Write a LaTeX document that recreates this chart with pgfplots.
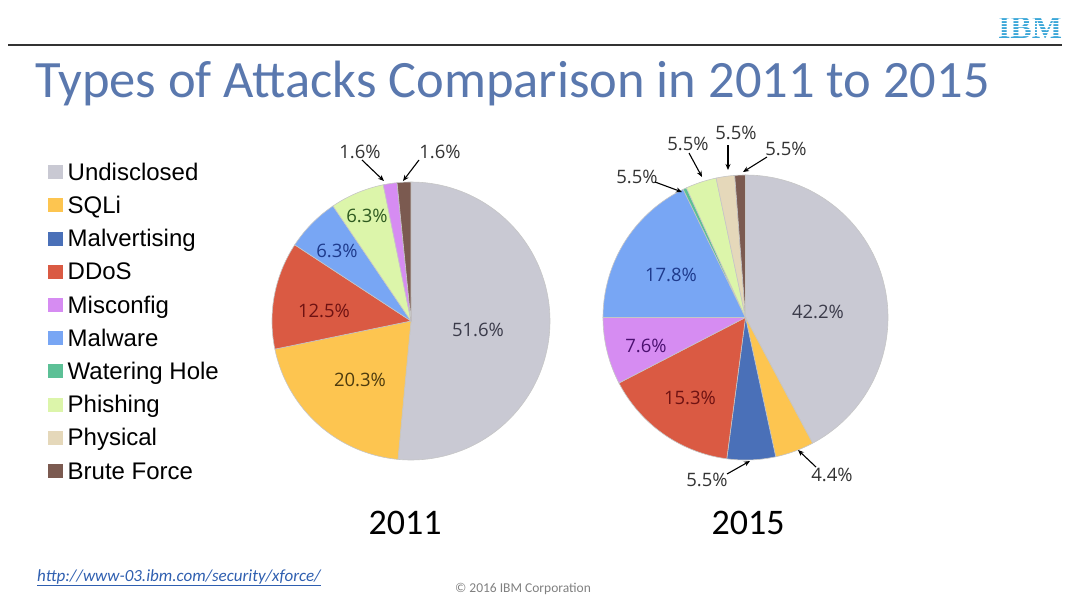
\documentclass[border=0pt]{standalone}
\usepackage{pgfplots}
\pgfplotsset{compat=1.18}
\usepackage{pgfplotstable}
\usepackage{fontspec}
\setmainfont{Liberation Sans}
\newfontfamily\calibri{Carlito}
\newfontfamily\labfont{Open Sans}
\newfontfamily\ibmfont{Liberation Serif}
\usetikzlibrary{arrows.meta}

\definecolor{cUnd}{HTML}{C9C9D3}
\definecolor{cSQL}{HTML}{FDC550}
\definecolor{cMalv}{HTML}{4A70B8}
\definecolor{cDDoS}{HTML}{DA5A43}
\definecolor{cMisc}{HTML}{D68CF2}
\definecolor{cMalw}{HTML}{78A6F4}
\definecolor{cWat}{HTML}{5CC096}
\definecolor{cPhis}{HTML}{DCF5AA}
\definecolor{cPhys}{HTML}{E5D8BA}
\definecolor{cBrute}{HTML}{7B5A50}
\definecolor{titleblue}{HTML}{5A78AE}
\definecolor{tGreen}{HTML}{2E5A20}
\definecolor{tBlue}{HTML}{1E3A8C}
\definecolor{tRed}{HTML}{6E1212}
\definecolor{tBrown}{HTML}{4D3B0E}
\definecolor{tDark}{HTML}{3B3B4A}
\definecolor{tPurple}{HTML}{4B1070}
\definecolor{ibmblue}{HTML}{3AA6D8}
\definecolor{urlblue}{HTML}{2F5FB0}

% 2011 shares (%), clockwise from 12 o'clock
\pgfplotstableread{
name value col
Undisclosed 51.6 cUnd
SQLi 20.3 cSQL
DDoS 12.5 cDDoS
Malware 6.3 cMalw
Phishing 6.3 cPhis
Misconfig 1.6 cMisc
BruteForce 1.6 cBrute
}\pieA

% 2015 shares (%), clockwise from 12 o'clock (slice sizes as drawn)
\pgfplotstableread{
name value col
Undisclosed 42.2 cUnd
SQLi 4.4 cSQL
Malvertising 5.5 cMalv
DDoS 15.3 cDDoS
Misconfig 7.6 cMisc
Malware 17.8 cMalw
WateringHole 0.4 cWat
Phishing 3.5 cPhis
Physical 2.1 cPhys
BruteForce 1.2 cBrute
}\pieB

\newcommand\drawpie[4]{%
  \pgfplotstablegetrowsof{#1}%
  \pgfmathtruncatemacro\nrows{\pgfplotsretval-1}%
  \def\tot{0}%
  \pgfplotsforeachungrouped \i in {0,...,\nrows}{%
    \pgfplotstablegetelem{\i}{value}\of{#1}%
    \pgfmathsetmacro\tot{\tot+\pgfplotsretval}}%
  \def\cum{90}%
  \pgfplotsforeachungrouped \i in {0,...,\nrows}{%
    \pgfplotstablegetelem{\i}{value}\of{#1}\let\v\pgfplotsretval
    \pgfplotstablegetelem{\i}{col}\of{#1}\let\c\pgfplotsretval
    \pgfmathsetmacro\nxt{\cum-(\v/\tot)*360}%
    \edef\temp{\noexpand\addplot[fill=\c, draw=gray!45, line width=0.6pt, domain=\nxt:\cum, samples=90, forget plot]
      ({#2+#4*cos(x)},{#3-#4*sin(x)}) -- (axis cs:#2,#3) -- cycle;}%
    \temp
    \let\cum\nxt
  }%
}

\pgfplotsset{sq/.style={legend image code/.code={\fill[##1,draw=none] (0pt,-5pt) rectangle (15pt,9pt);}}}

\begin{document}
\begin{tikzpicture}
\begin{axis}[
  scale only axis, width=1066pt, height=597pt,
  xmin=0, xmax=1066, ymin=0, ymax=597, y dir=reverse,
  hide axis, clip=false,
  legend style={at={(axis cs:45,161)}, anchor=north west, draw=none, fill=none,
    font=\fontsize{24}{28}\selectfont, row sep=11.2pt,
    nodes={inner sep=0pt, text height=17pt, text depth=5pt},
    /tikz/every odd column/.append style={column sep=4.5pt}},
  legend cell align=left,
]
\path (axis cs:0,0) rectangle (axis cs:1066,597);

\addlegendimage{sq, fill=cUnd}\addlegendentry{Undisclosed}
\addlegendimage{sq, fill=cSQL}\addlegendentry{SQLi}
\addlegendimage{sq, fill=cMalv}\addlegendentry{Malvertising}
\addlegendimage{sq, fill=cDDoS}\addlegendentry{DDoS}
\addlegendimage{sq, fill=cMisc}\addlegendentry{Misconfig}
\addlegendimage{sq, fill=cMalw}\addlegendentry{Malware}
\addlegendimage{sq, fill=cWat}\addlegendentry{Watering Hole}
\addlegendimage{sq, fill=cPhis}\addlegendentry{Phishing}
\addlegendimage{sq, fill=cPhys}\addlegendentry{Physical}
\addlegendimage{sq, fill=cBrute}\addlegendentry{Brute Force}

\drawpie{\pieA}{411}{321}{139}
\drawpie{\pieB}{745.5}{317.5}{142.5}

% header
\draw[line width=1.5pt, black!80] (axis cs:8,45) -- (axis cs:1062,45);
\node[anchor=base west, inner sep=0pt, text=titleblue, font=\calibri\fontsize{52.5}{56}\selectfont] at (axis cs:35,97) {Types of Attacks Comparison in 2011 to 2015};
\node[inner sep=0pt, text=ibmblue, font=\ibmfont\bfseries\fontsize{32}{32}\selectfont] (ibm) at (axis cs:1030,28) {IBM};
\fill[white] (axis cs:990,17) rectangle (axis cs:1066,18.1)
  (axis cs:990,20) rectangle (axis cs:1066,21.1)
  (axis cs:990,23) rectangle (axis cs:1066,24.1)
  (axis cs:990,26) rectangle (axis cs:1066,27.1)
  (axis cs:990,29) rectangle (axis cs:1066,30.1)
  (axis cs:990,32) rectangle (axis cs:1066,33.1)
  (axis cs:990,35) rectangle (axis cs:1066,36.1)
  (axis cs:990,38) rectangle (axis cs:1066,39.1);

% 2011 labels
\begin{scope}[every node/.style={font=\labfont\fontsize{18.5}{20}\selectfont, inner sep=0pt}]
\node[text=black!80] at (axis cs:360,152) {1.6\%};
\node[text=black!80] at (axis cs:440,152) {1.6\%};
\node[text=tGreen] at (axis cs:367,216) {6.3\%};
\node[text=tBlue] at (axis cs:337,251) {6.3\%};
\node[text=tRed] at (axis cs:324,311) {12.5\%};
\node[text=tBrown] at (axis cs:360,380) {20.3\%};
\node[text=tDark] at (axis cs:478,330) {51.6\%};
% 2015 labels
\node[text=tBlue] at (axis cs:671,275) {17.8\%};
\node[text=tDark] at (axis cs:818,312) {42.2\%};
\node[text=tPurple] at (axis cs:646,346) {7.6\%};
\node[text=tRed] at (axis cs:690,398) {15.3\%};
\node[text=black!80] at (axis cs:707,480) {5.5\%};
\node[text=black!80] at (axis cs:832,475) {4.4\%};
\node[text=black!80] at (axis cs:637,177) {5.5\%};
\node[text=black!80] at (axis cs:688,144) {5.5\%};
\node[text=black!80] at (axis cs:736,133) {5.5\%};
\node[text=black!80] at (axis cs:786,149) {5.5\%};
\end{scope}
\begin{scope}[line width=1.1pt, -{Stealth[length=6pt,width=5pt]}]
\draw (axis cs:362,160) -- (axis cs:384,181);
\draw (axis cs:419,160) -- (axis cs:403,181);
\draw (axis cs:727,474) -- (axis cs:750,461);
\draw (axis cs:816,467) -- (axis cs:798,450);
\draw (axis cs:655,182) -- (axis cs:682,192);
\draw (axis cs:689,153) -- (axis cs:702,177);
\draw (axis cs:728,145) -- (axis cs:728,170);
\draw (axis cs:767,157) -- (axis cs:743,172);
\end{scope}

% year labels
\node[font=\calibri\fontsize{36}{40}\selectfont, inner sep=0pt] at (axis cs:405,523) {2011};
\node[font=\calibri\fontsize{36}{40}\selectfont, inner sep=0pt] at (axis cs:748,523) {2015};

% footer
\node[anchor=west, inner sep=0pt, text=urlblue, font=\calibri\itshape\fontsize{17}{19}\selectfont] at (axis cs:37,578) {\underline{http://www-03.ibm.com/security/xforce/}};
\node[inner sep=0pt, text=gray, font=\calibri\fontsize{13.5}{15}\selectfont] at (axis cs:523,589) {\textcopyright\ 2016 IBM Corporation};
\end{axis}
\end{tikzpicture}
\end{document}
